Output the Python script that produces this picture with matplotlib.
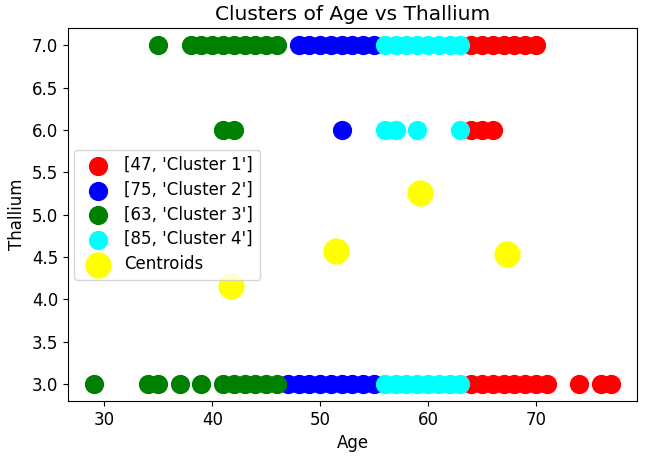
import numpy as np
import matplotlib
matplotlib.use("Agg")
import matplotlib.pyplot as plt

# cluster members (age, thallium)
c1_age = [64, 65, 66, 67, 68, 69, 70, 64, 65, 66, 64, 65, 66, 67, 68, 69, 70, 71, 74, 76, 77]
c1_thal = [7, 7, 7, 7, 7, 7, 7, 6, 6, 6, 3, 3, 3, 3, 3, 3, 3, 3, 3, 3, 3]

c2_age = [48, 49, 50, 51, 52, 53, 54, 55, 52, 47, 48, 49, 50, 51, 52, 53, 54, 55]
c2_thal = [7, 7, 7, 7, 7, 7, 7, 7, 6, 3, 3, 3, 3, 3, 3, 3, 3, 3]

c3_age = [35, 38, 39, 40, 41, 42, 43, 44, 45, 46, 41, 42,
          29, 34, 35, 37, 39, 41, 42, 43, 44, 45, 46]
c3_thal = [7, 7, 7, 7, 7, 7, 7, 7, 7, 7, 6, 6,
           3, 3, 3, 3, 3, 3, 3, 3, 3, 3, 3]

c4_age = [56, 57, 58, 59, 60, 61, 62, 63, 56, 57, 59, 63, 56, 57, 58, 59, 60, 61, 62, 63]
c4_thal = [7, 7, 7, 7, 7, 7, 7, 7, 6, 6, 6, 6, 3, 3, 3, 3, 3, 3, 3, 3]

cent_age = [67.3, 51.5, 41.7, 59.3]
cent_thal = [4.53, 4.57, 4.16, 5.25]

labels = ["[47, 'Cluster 1']", "[75, 'Cluster 2']", "[63, 'Cluster 3']", "[85, 'Cluster 4']"]
colors = ["red", "blue", "green", "cyan"]

fig, ax = plt.subplots(figsize=(6.45, 4.57), dpi=100)
fig.subplots_adjust(left=0.105, right=0.988, top=0.938, bottom=0.123)

groups = [(c1_age, c1_thal), (c2_age, c2_thal), (c3_age, c3_thal), (c4_age, c4_thal)]
for (a, t), lab, col in zip(groups, labels, colors):
    ax.scatter(a, t, s=165, c=col, label=lab)
ax.scatter(cent_age, cent_thal, s=320, c="yellow", label="Centroids")

ax.set_title("Clusters of Age vs Thallium", fontsize=14.5)
ax.set_xlabel("Age", fontsize=12)
ax.set_ylabel("Thallium", fontsize=12)
ax.tick_params(labelsize=12)
ax.legend(loc="center left", fontsize=12, handletextpad=0.6, borderaxespad=0.4,
          labelspacing=0.4)

fig.savefig("out.png")
